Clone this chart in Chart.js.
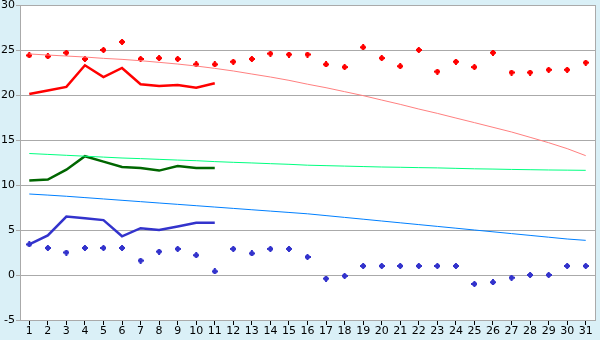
<!DOCTYPE html>
<html>
<head>
    <meta charset="UTF-8" />
    <title>Chart</title>
    <script src="https://cdn.jsdelivr.net/npm/chart.js"></script>
    <style>
        html, body {
            margin: 0;
            padding: 0;
            background: #daf0f7;
        }
        #wrap {
            width: 600px;
            height: 340px;
        }
    </style>
</head>
<body>
    <div id="wrap"><canvas id="grafico" width="600" height="340"></canvas></div>

    <script>
        const dias = [];
        for (let d = 1; d <= 31; d++) dias.push(String(d));

        const puntosRojos = [24.4, 24.3, 24.7, 24.0, 25.0, 25.9, 24.0, 24.1, 24.0, 23.4, 23.4, 23.7, 24.0, 24.6, 24.5,
            24.5, 23.4, 23.1, 25.3, 24.1, 23.2, 25.0, 22.6, 23.7, 23.1, 24.7, 22.5, 22.5, 22.8, 22.8, 23.6];
        const lineaRoja = [20.1, 20.5, 20.9, 23.3, 22.0, 23.0, 21.2, 21.0, 21.1, 20.8, 21.3];
        const tendenciaRoja = [24.56, 24.44, 24.33, 24.22, 24.07, 23.96, 23.81, 23.63, 23.44, 23.22, 22.96, 22.67, 22.33, 22.0, 21.63,
            21.2, 20.81, 20.37, 19.93, 19.44, 18.96, 18.44, 17.96, 17.44, 16.93, 16.41, 15.89, 15.3, 14.7, 14.04, 13.26];

        const lineaVerde = [10.5, 10.6, 11.7, 13.2, 12.6, 12.0, 11.9, 11.6, 12.1, 11.9, 11.9];
        const tendenciaVerde = [13.5, 13.4, 13.3, 13.2, 13.1, 13.0, 12.93, 12.85, 12.77, 12.7, 12.6, 12.52, 12.45, 12.37, 12.3,
            12.2, 12.15, 12.1, 12.05, 12.0, 11.97, 11.93, 11.9, 11.85, 11.8, 11.77, 11.73, 11.7, 11.67, 11.65, 11.63];

        const lineaAzul = [3.4, 4.4, 6.5, 6.3, 6.1, 4.3, 5.2, 5.0, 5.4, 5.8, 5.8];
        const puntosAzules = [3.4, 3.0, 2.5, 3.0, 3.0, 3.0, 1.6, 2.6, 2.9, 2.2, 0.4, 2.9, 2.4, 2.9, 2.9,
            2.0, -0.4, -0.1, 1.0, 1.0, 1.0, 1.0, 1.0, 1.0, -1.0, -0.8, -0.3, 0.0, 0.0, 1.0, 1.0];
        const tendenciaAzul = [9.0, 8.88, 8.75, 8.6, 8.45, 8.3, 8.15, 8.0, 7.85, 7.7, 7.55, 7.4, 7.25, 7.1, 6.95,
            6.8, 6.6, 6.4, 6.2, 6.0, 5.8, 5.6, 5.4, 5.2, 5.0, 4.8, 4.6, 4.4, 4.2, 4.0, 3.85];

        const ticksY = [-5, 0, 5, 10, 15, 20, 25, 30];

        // marcador pequeño en forma de cruz gruesa
        function crearMarcador(color) {
            const patron = [
                '..##..',
                '.####.',
                '######',
                '######',
                '.####.',
                '..##..'
            ];
            const c = document.createElement('canvas');
            c.width = 6;
            c.height = 6;
            const ctx = c.getContext('2d');
            ctx.fillStyle = color;
            patron.forEach((fila, y) => {
                for (let x = 0; x < fila.length; x++) {
                    if (fila[x] === '#') ctx.fillRect(x, y, 1, 1);
                }
            });
            return c;
        }

        const fondoArea = {
            id: 'fondoArea',
            beforeDraw(chart) {
                const { ctx, chartArea } = chart;
                ctx.save();
                ctx.fillStyle = '#ffffff';
                ctx.fillRect(chartArea.left, chartArea.top, chartArea.right - chartArea.left, chartArea.bottom - chartArea.top);
                ctx.restore();
            },
            afterDraw(chart) {
                const { ctx, chartArea } = chart;
                ctx.save();
                ctx.strokeStyle = '#aaaaaa';
                ctx.lineWidth = 1;
                ctx.beginPath();
                ctx.moveTo(Math.round(chartArea.right) + 0.5, chartArea.top);
                ctx.lineTo(Math.round(chartArea.right) + 0.5, chartArea.bottom);
                ctx.stroke();
                ctx.restore();
            }
        };

        function lineaSimple(datos, color, ancho) {
            return {
                data: datos,
                borderColor: color,
                borderWidth: ancho,
                pointRadius: 0,
                tension: 0,
                fill: false
            };
        }

        function soloPuntos(datos, color) {
            return {
                data: datos,
                showLine: false,
                borderWidth: 0,
                pointStyle: crearMarcador(color),
                pointRadius: 3,
                pointHoverRadius: 3
            };
        }

        new Chart(document.getElementById('grafico'), {
            type: 'line',
            data: {
                labels: dias,
                datasets: [
                    lineaSimple(tendenciaRoja, '#ff8080', 1),
                    lineaSimple(tendenciaVerde, '#00ff80', 1),
                    lineaSimple(tendenciaAzul, '#0080ff', 1),
                    lineaSimple(lineaRoja, '#ff0000', 2.5),
                    lineaSimple(lineaVerde, '#006600', 2.5),
                    lineaSimple(lineaAzul, '#3333cc', 2.5),
                    soloPuntos(puntosRojos, '#ff0000'),
                    soloPuntos(puntosAzules, '#3333cc')
                ]
            },
            options: {
                responsive: false,
                animation: false,
                events: [],
                layout: { padding: { top: 5, right: 5, left: 0, bottom: 0 } },
                plugins: {
                    legend: { display: false },
                    tooltip: { enabled: false }
                },
                scales: {
                    x: {
                        offset: true,
                        afterFit(scale) {
                            scale.height = 20;
                            scale.paddingLeft = 0;
                            scale.paddingRight = 0;
                        },
                        grid: {
                            offset: false,
                            drawOnChartArea: false,
                            color: '#000000',
                            tickLength: 5
                        },
                        border: { color: '#aaaaaa' },
                        ticks: {
                            autoSkip: false,
                            maxRotation: 0,
                            padding: 0,
                            color: '#000000',
                            font: { family: 'DejaVu Sans', size: 11 }
                        }
                    },
                    y: {
                        min: -5,
                        max: 30,
                        afterFit(scale) {
                            scale.width = 20;
                            scale.paddingTop = 0;
                            scale.paddingBottom = 0;
                        },
                        afterBuildTicks(scale) { scale.ticks = ticksY.map(v => ({ value: v })); },
                        grid: {
                            color: '#aaaaaa',
                            tickColor: '#aaaaaa',
                            tickLength: 4
                        },
                        border: { color: '#aaaaaa' },
                        ticks: {
                            padding: 1,
                            color: '#000000',
                            font: { family: 'DejaVu Sans', size: 11 }
                        }
                    }
                }
            },
            plugins: [fondoArea]
        });
    </script>
</body>
</html>
